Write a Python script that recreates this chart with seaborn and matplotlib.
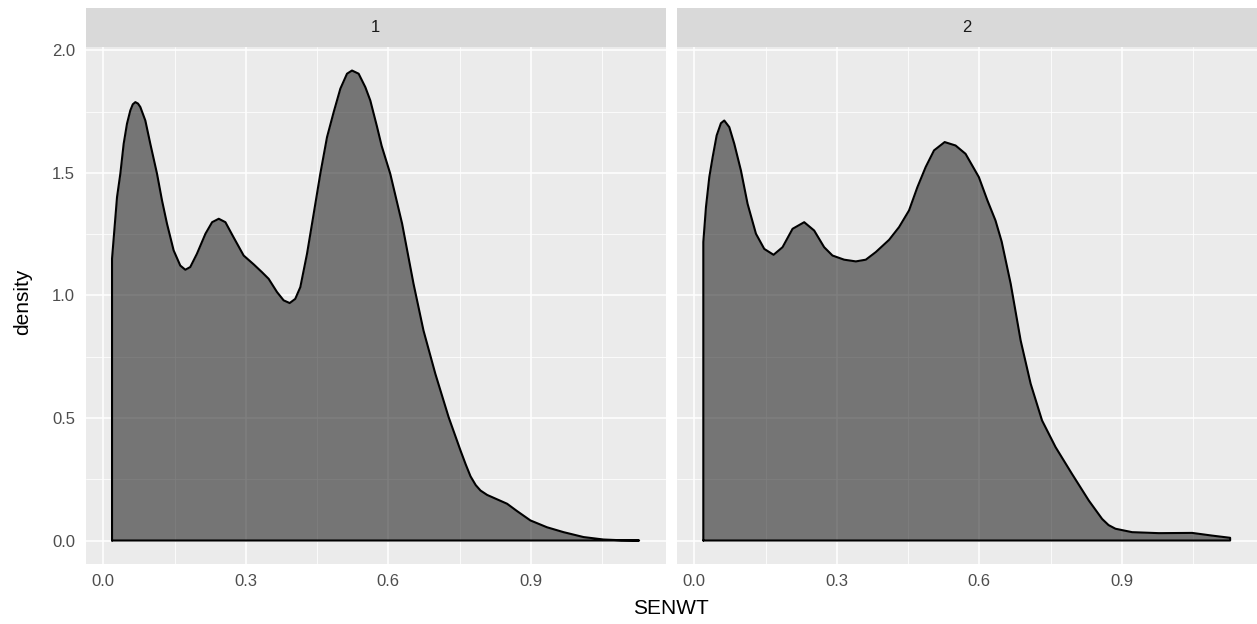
import numpy as np
import pandas as pd
import matplotlib
matplotlib.use("Agg")
import matplotlib.pyplot as plt
import seaborn as sns

# ---- data (density curves per facet) ----
facets = ["1", "2"]

senwt_1 = [0.0183, 0.0288, 0.0358, 0.0428, 0.0498, 0.0568, 0.062, 0.0674, 0.073, 0.0779, 0.0884, 0.0989,
           0.113, 0.1235, 0.134, 0.148, 0.162, 0.1726, 0.183, 0.197, 0.215, 0.229,
           0.243, 0.257, 0.274, 0.2954, 0.3165, 0.334, 0.348, 0.3656, 0.3796, 0.3923,
           0.404, 0.4147, 0.4288, 0.4428, 0.4568, 0.4709, 0.4849, 0.499, 0.513, 0.5235,
           0.5375, 0.5516, 0.562, 0.576, 0.586, 0.604, 0.629, 0.653, 0.674, 0.699,
           0.727, 0.752, 0.763, 0.773, 0.784, 0.794, 0.808, 0.822, 0.85, 0.871, 0.899, 0.934,
           0.969, 1.011, 1.053, 1.09, 1.128]
density_1 = [1.150, 1.401, 1.497, 1.619, 1.701, 1.755, 1.780, 1.789, 1.783, 1.769, 1.714, 1.619,
             1.497, 1.388, 1.293, 1.184, 1.122, 1.105, 1.116, 1.170, 1.252, 1.299,
             1.313, 1.299, 1.238, 1.163, 1.127, 1.095, 1.068, 1.014, 0.980, 0.969,
             0.986, 1.034, 1.170, 1.333, 1.497, 1.646, 1.748, 1.844, 1.905, 1.918,
             1.905, 1.850, 1.796, 1.690, 1.610, 1.497, 1.293, 1.048, 0.857, 0.680,
             0.503, 0.367, 0.310, 0.262, 0.226, 0.204, 0.186, 0.174, 0.150, 0.120, 0.082, 0.054,
             0.034, 0.014, 0.004, 0.001, 0.000]

senwt_2 = [0.0189, 0.0245, 0.0315, 0.0386, 0.047, 0.056, 0.063, 0.0736, 0.0841, 0.0981,
           0.1121, 0.1297, 0.1472, 0.1668, 0.1857, 0.2068, 0.2313, 0.2523, 0.2733, 0.2908,
           0.3154, 0.34, 0.361, 0.382, 0.41, 0.431, 0.452, 0.4696, 0.487, 0.5046,
           0.527, 0.55, 0.571, 0.599, 0.617, 0.634, 0.647, 0.666, 0.687, 0.708,
           0.732, 0.7605, 0.795, 0.8305, 0.8585, 0.872, 0.8866, 0.9216, 0.978, 1.048, 1.09,
           1.128]
density_2 = [1.218, 1.361, 1.483, 1.565, 1.653, 1.703, 1.714, 1.687, 1.619, 1.510,
             1.374, 1.252, 1.190, 1.166, 1.197, 1.272, 1.299, 1.265, 1.197, 1.163,
             1.146, 1.139, 1.146, 1.177, 1.227, 1.279, 1.347, 1.442, 1.524, 1.592,
             1.626, 1.612, 1.578, 1.483, 1.388, 1.306, 1.220, 1.048, 0.816, 0.640,
             0.490, 0.381, 0.272, 0.163, 0.088, 0.063, 0.048, 0.034, 0.030, 0.031, 0.020,
             0.011]

x_ticks = [0.0, 0.3, 0.6, 0.9]
x_tick_labels = ["0.0", "0.3", "0.6", "0.9"]
y_ticks = [0.0, 0.5, 1.0, 1.5, 2.0]
y_tick_labels = ["0.0", "0.5", "1.0", "1.5", "2.0"]
x_minor = [0.15, 0.45, 0.75, 1.05]
y_minor = [0.25, 0.75, 1.25, 1.75]

# ---- styling ----
sns.set_style("white")
plt.rcParams["font.family"] = ["Liberation Sans", "DejaVu Sans"]

W, H = 1257, 624
fig = plt.figure(figsize=(W / 100, H / 100), dpi=100)

panel_px = [(86, 579.5), (677, 579.5)]
panel_bottom, panel_top = 564, 47
strip_top = 8

series = [(senwt_1, density_1), (senwt_2, density_2)]

for i, (facet, (xs, ys)) in enumerate(zip(facets, series)):
    left, width = panel_px[i]
    ax = fig.add_axes([left / W, (H - panel_bottom) / H, width / W,
                       (panel_bottom - panel_top) / H])
    ax.set_facecolor("#EBEBEB")
    for s in ax.spines.values():
        s.set_visible(False)
    ax.set_xlim(-0.0365, 1.1835)
    ax.set_ylim(-0.0959, 2.014)

    ax.set_xticks(x_ticks)
    ax.set_xticklabels(x_tick_labels)
    ax.set_xticks(x_minor, minor=True)
    ax.set_yticks(y_ticks)
    ax.set_yticks(y_minor, minor=True)
    if i == 0:
        ax.set_yticklabels(y_tick_labels)
    else:
        ax.set_yticklabels([])
    ax.grid(which="major", color="white", linewidth=1.1, zorder=0)
    ax.grid(which="minor", color="white", linewidth=0.55, zorder=0)
    ax.set_axisbelow(True)
    ax.tick_params(axis="both", which="major", length=4.3, width=0.8,
                   color="#333333", labelcolor="#4D4D4D", labelsize=12)
    ax.tick_params(axis="x", which="major", pad=3.2)
    ax.tick_params(axis="y", which="major", pad=3.5)
    ax.tick_params(which="minor", length=0)
    if i == 1:
        ax.tick_params(axis="y", which="major", length=0)

    df = pd.DataFrame({"SENWT": xs, "density": ys})
    ax.fill_between(df["SENWT"], 0, df["density"], color="black", alpha=0.5,
                    linewidth=0, zorder=2)
    outline = pd.DataFrame({
        "SENWT": [xs[0]] + list(xs) + [xs[-1], xs[0]],
        "density": [0.0] + list(ys) + [0.0, 0.0],
    })
    sns.lineplot(data=outline, x="SENWT", y="density", sort=False, estimator=None,
                 color="black", linewidth=1.5, ax=ax, zorder=3,
                 solid_joinstyle="round", solid_capstyle="round")
    ax.set_xlabel("")
    ax.set_ylabel("")

    # strip
    sax = fig.add_axes([left / W, (H - panel_top) / H, width / W,
                        (panel_top - strip_top) / H])
    sax.set_facecolor("#D9D9D9")
    for s in sax.spines.values():
        s.set_visible(False)
    sax.set_xticks([])
    sax.set_yticks([])
    sax.text(0.5, 0.5, facet, ha="center", va="center", fontsize=12,
             color="#1A1A1A", transform=sax.transAxes)

fig.text(671 / W, (H - 608.5) / H, "SENWT", ha="center", va="center", fontsize=15,
         color="black")
fig.text(23 / W, (H - 302) / H, "density", ha="center", va="center", fontsize=15,
         rotation=90, color="black")

fig.savefig("out.png", dpi=100, facecolor="white")
